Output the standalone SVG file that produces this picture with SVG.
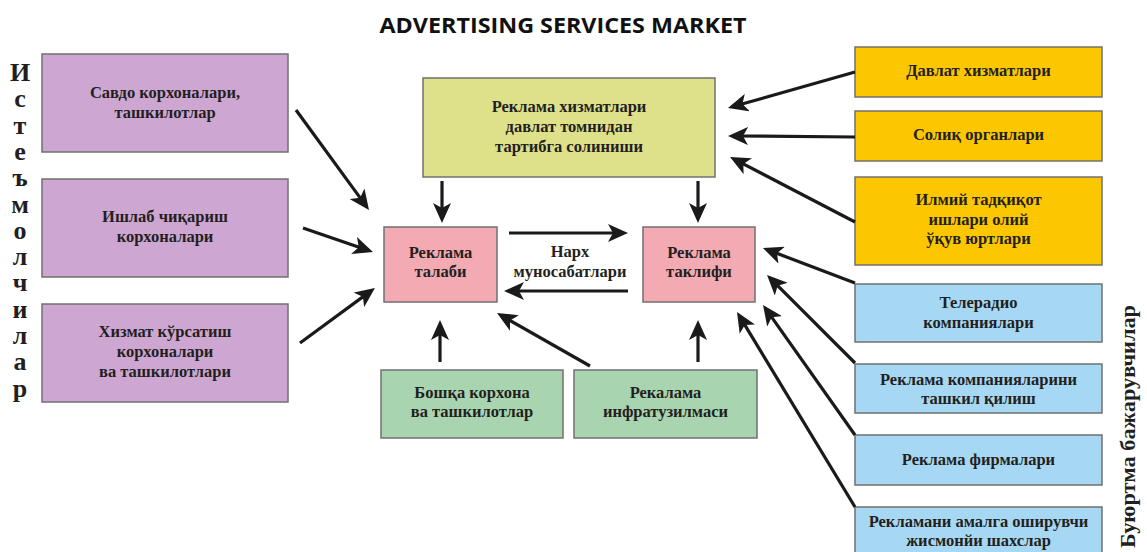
<svg xmlns="http://www.w3.org/2000/svg" width="1147" height="552" viewBox="0 0 1147 552">
  <style>
    .box { stroke: #707070; stroke-width: 1.5; }
    .purple { fill: #cea6d2; }
    .olive { fill: #dee18a; }
    .pink { fill: #f3aab3; }
    .green { fill: #a9d4b0; }
    .gold { fill: #fdc700; }
    .blue { fill: #a7d8f3; }
    .lbl { font-family: "Liberation Serif", "Times New Roman", serif; font-weight: bold; font-size: 16.5px; fill: #231f20; text-anchor: middle; }
    .side { font-family: "Liberation Serif", "Times New Roman", serif; font-weight: bold; fill: #231f20; }
    .upright { writing-mode: vertical-rl; text-orientation: upright; letter-spacing: -2.7px; }
    .title { font-family: "Open Sans", "Liberation Sans", sans-serif; font-weight: bold; font-size: 21px; fill: #111; text-anchor: middle; }
    .arrow { stroke: #1a1a1a; stroke-width: 3.2; fill: none; marker-end: url(#head); }
  </style>
  <defs>
    <marker id="head" markerUnits="userSpaceOnUse" viewBox="0 0 20 18" markerWidth="20" markerHeight="18" refX="10" refY="9" orient="auto">
      <path d="M0,0 L20,9 L0,18 L5,9 Z" fill="#1a1a1a"/>
    </marker>
  </defs>

  <rect width="1147" height="552" fill="#ffffff"/>

  <text class="title" x="563" y="33" textLength="367" lengthAdjust="spacingAndGlyphs">ADVERTISING SERVICES MARKET</text>

  <!-- vertical caption, left: letters stacked upright -->
  <g id="consumers-label">
    <text class="side upright" x="20" y="58" font-size="26">Истеъмолчилар</text>
  </g>

  <!-- vertical caption, right -->
  <g id="contractors-label">
    <text class="side" font-size="22" transform="translate(1135 548) rotate(-90)" textLength="243" lengthAdjust="spacingAndGlyphs">Буюртма бажарувчилар</text>
  </g>

  <!-- consumers -->
  <g id="trade">
    <rect class="box purple" x="42" y="54" width="246" height="98"/>
    <text class="lbl" x="165" y="98">Савдо корхоналари,</text>
    <text class="lbl" x="165" y="118">ташкилотлар</text>
  </g>
  <g id="production">
    <rect class="box purple" x="42" y="179" width="246" height="98"/>
    <text class="lbl" x="165" y="222">Ишлаб чиқариш</text>
    <text class="lbl" x="165" y="242">корхоналари</text>
  </g>
  <g id="services">
    <rect class="box purple" x="42" y="304" width="246" height="98"/>
    <text class="lbl" x="165" y="337">Хизмат кўрсатиш</text>
    <text class="lbl" x="165" y="357">корхоналари</text>
    <text class="lbl" x="165" y="377">ва ташкилотлари</text>
  </g>

  <!-- regulation -->
  <g id="regulation">
    <rect class="box olive" x="423" y="78" width="292" height="99"/>
    <text class="lbl" x="569" y="112">Реклама хизматлари</text>
    <text class="lbl" x="569" y="132">давлат томнидан</text>
    <text class="lbl" x="569" y="152">тартибга солиниши</text>
  </g>

  <!-- market core -->
  <g id="demand">
    <rect class="box pink" x="384" y="227" width="113" height="75"/>
    <text class="lbl" x="440.5" y="258">Реклама</text>
    <text class="lbl" x="440.5" y="277">талаби</text>
  </g>
  <g id="supply">
    <rect class="box pink" x="643" y="227" width="112" height="75"/>
    <text class="lbl" x="699" y="258">Реклама</text>
    <text class="lbl" x="699" y="277">таклифи</text>
  </g>
  <g id="price">
    <text class="lbl" x="570" y="257">Нарх</text>
    <text class="lbl" x="570" y="277">муносабатлари</text>
  </g>

  <!-- bottom -->
  <g id="other">
    <rect class="box green" x="381" y="370" width="182" height="68"/>
    <text class="lbl" x="472" y="398">Бошқа корхона</text>
    <text class="lbl" x="472" y="417">ва ташкилотлар</text>
  </g>
  <g id="infrastructure">
    <rect class="box green" x="574" y="370" width="183" height="68"/>
    <text class="lbl" x="665.5" y="398">Рекалама</text>
    <text class="lbl" x="665.5" y="417">инфратузилмаси</text>
  </g>

  <!-- state side -->
  <g id="state-services">
    <rect class="box gold" x="855" y="47" width="247" height="50"/>
    <text class="lbl" x="978.5" y="76">Давлат хизматлари</text>
  </g>
  <g id="tax">
    <rect class="box gold" x="855" y="111" width="247" height="50"/>
    <text class="lbl" x="978.5" y="140">Солиқ органлари</text>
  </g>
  <g id="research">
    <rect class="box gold" x="855" y="177" width="247" height="88"/>
    <text class="lbl" x="978.5" y="205">Илмий тадқиқот</text>
    <text class="lbl" x="978.5" y="225">ишлари олий</text>
    <text class="lbl" x="978.5" y="244">ўқув юртлари</text>
  </g>

  <!-- contractors -->
  <g id="broadcast">
    <rect class="box blue" x="855" y="284" width="247" height="58"/>
    <text class="lbl" x="978.5" y="308">Телерадио</text>
    <text class="lbl" x="978.5" y="328">компаниялари</text>
  </g>
  <g id="campaigns">
    <rect class="box blue" x="855" y="364" width="247" height="49"/>
    <text class="lbl" x="978.5" y="385">Реклама компанияларини</text>
    <text class="lbl" x="978.5" y="404">ташкил қилиш</text>
  </g>
  <g id="firms">
    <rect class="box blue" x="855" y="435" width="247" height="50"/>
    <text class="lbl" x="978.5" y="465">Реклама фирмалари</text>
  </g>
  <g id="individuals">
    <rect class="box blue" x="855" y="507" width="247" height="46"/>
    <text class="lbl" x="978.5" y="527">Рекламани амалга оширувчи</text>
    <text class="lbl" x="978.5" y="546">жисмонйи шахслар</text>
  </g>

  <!-- connectors -->
  <g id="connectors">
    <line class="arrow" x1="296" y1="110" x2="363.1" y2="201.9"/>
    <line class="arrow" x1="303" y1="228" x2="363.5" y2="248.8"/>
    <line class="arrow" x1="300" y1="343" x2="366.9" y2="293.9"/>
    <line class="arrow" x1="442" y1="181" x2="442" y2="213"/>
    <line class="arrow" x1="698" y1="181" x2="698" y2="213"/>
    <line class="arrow" x1="509" y1="233" x2="618" y2="233"/>
    <line class="arrow" x1="628" y1="291" x2="514" y2="291"/>
    <line class="arrow" x1="440" y1="362" x2="440" y2="330"/>
    <line class="arrow" x1="590" y1="366" x2="505.7" y2="318"/>
    <line class="arrow" x1="698" y1="362" x2="698" y2="330"/>
    <line class="arrow" x1="855" y1="72" x2="737.6" y2="105.3"/>
    <line class="arrow" x1="855" y1="137" x2="738" y2="136"/>
    <line class="arrow" x1="855" y1="222" x2="738.9" y2="161.6"/>
    <line class="arrow" x1="855" y1="283" x2="772.3" y2="251.6"/>
    <line class="arrow" x1="855" y1="363" x2="774.1" y2="282.1"/>
    <line class="arrow" x1="855" y1="435" x2="768.8" y2="313.2"/>
    <line class="arrow" x1="855" y1="507" x2="742.2" y2="320.6"/>
  </g>
</svg>
